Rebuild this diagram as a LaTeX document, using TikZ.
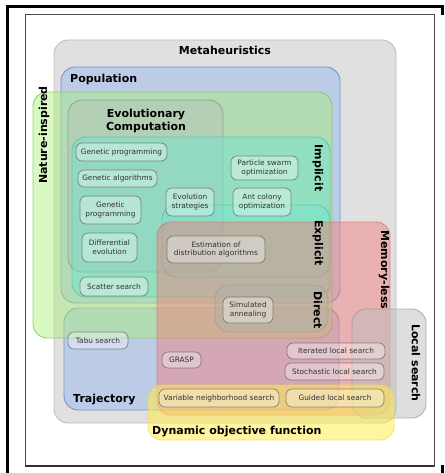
\documentclass[tikz,border=0pt]{standalone}
\usepackage{fontspec}
\setmainfont{DejaVu Sans}
\definecolor{metaF}{RGB}{224,224,224}
\definecolor{metaD}{RGB}{190,190,190}
\definecolor{popF}{RGB}{165,192,236}
\definecolor{popD}{RGB}{120,150,205}
\definecolor{natF}{RGB}{170,240,120}
\definecolor{natD}{RGB}{120,200,90}
\definecolor{ecF}{RGB}{180,180,180}
\definecolor{ecD}{RGB}{130,150,130}
\definecolor{impF}{RGB}{110,230,210}
\definecolor{impD}{RGB}{80,190,170}
\definecolor{memF}{RGB}{245,120,120}
\definecolor{memD}{RGB}{210,110,110}
\definecolor{locF}{RGB}{190,190,190}
\definecolor{locD}{RGB}{150,150,150}
\definecolor{dynF}{RGB}{255,238,80}
\definecolor{dynD}{RGB}{235,215,80}
\begin{document}
\begin{tikzpicture}[x=1pt,y=-1pt,
  setbox/.style={rounded corners=14pt,line width=0.9pt},
  biglabel/.style={font=\fontsize{11}{13}\selectfont\bfseries,inner sep=0pt,align=center},
  item/.style={draw=black!60,draw opacity=0.75,fill=white,fill opacity=0.35,text opacity=1,
    rounded corners=6pt,line width=0.7pt,align=center,inner sep=1pt,
    font=\fontsize{7.4}{8.6}\selectfont,text=black!80}]
\useasboundingbox (0,0) rectangle (444,473);
% frames
\draw[line width=3pt] (7,480) -- (7,7) -- (442,7) -- (442,15);
\fill (441,465) rectangle (444,473);
\draw[black!70,line width=0.8pt] (25,14) rectangle (434,466);
\draw[black!80,line width=1.2pt] (25,466) -- (434,466);
% sets
\draw[setbox,fill=metaF,draw=metaD] (54,40) rectangle (396,423);
\draw[setbox,fill=popF,fill opacity=0.6,draw=popD] (61,67) rectangle (340,303);
\draw[setbox,fill=popF,fill opacity=0.6,draw=popD] (64,308) rectangle (339,410);
\draw[setbox,fill=natF,fill opacity=0.45,draw=natD,draw opacity=0.8] (33,92) rectangle (332,338);
\draw[setbox,fill=ecF,fill opacity=0.3,draw=ecD,draw opacity=0.7] (68,100) rectangle (223,272);
\draw[setbox,fill=impF,fill opacity=0.45,draw=impD,draw opacity=0.7] (72,137) rectangle (330,297);
\draw[setbox,fill=impF,fill opacity=0.35,draw=impD,draw opacity=0.7] (162,205) rectangle (330,277);
\draw[setbox,fill=impF,fill opacity=0.45,draw=impD,draw opacity=0.7] (215,285) rectangle (328,332);
\draw[setbox,fill=memF,fill opacity=0.45,draw=memD,draw opacity=0.7] (157,222) rectangle (390,415);
\draw[setbox,fill=locF,fill opacity=0.5,draw=locD,draw opacity=0.7] (352,309) rectangle (426,418);
\draw[setbox,fill=dynF,fill opacity=0.55,draw=dynD,draw opacity=0.7] (148,385) rectangle (394,440);
% labels
\node[biglabel] (lmeta) at (225,50) {Metaheuristics};
\node[biglabel,anchor=west] (lpop) at (70,79) {Population};
\node[biglabel] (lec) at (146,121) {Evolutionary\\Computation};
\node[biglabel,rotate=90] (lnat) at (44,135) {Nature-inspired};
\node[biglabel,rotate=-90] (limp) at (318,168) {Implicit};
\node[biglabel,rotate=-90] (lexp) at (318,243) {Explicit};
\node[biglabel,rotate=-90] (ldir) at (318,310) {Direct};
\node[biglabel,rotate=-90] (lmem) at (384,270) {Memory-less};
\node[biglabel,rotate=-90] (lloc) at (416,363) {Local search};
\node[biglabel,anchor=west] (ltraj) at (73,400) {Trajectory};
\node[biglabel,anchor=west] (ldyn) at (152,432) {Dynamic objective function};
% items
\node[item,minimum width=91pt,minimum height=18pt] (gp1) at (121.5,152) {Genetic programming};
\node[item,minimum width=79pt,minimum height=17pt] (ga) at (117.5,178.5) {Genetic algorithms};
\node[item,minimum width=61pt,minimum height=28pt] (gp2) at (110.5,210) {Genetic\\programming};
\node[item,minimum width=55pt,minimum height=29pt] (de) at (109.5,247.5) {Differential\\evolution};
\node[item,minimum width=68pt,minimum height=19pt] (ss) at (114,286.5) {Scatter search};
\node[item,minimum width=48pt,minimum height=28pt] (es) at (190,202) {Evolution\\strategies};
\node[item,minimum width=67pt,minimum height=24pt] (pso) at (264.5,168) {Particle swarm\\optimization};
\node[item,minimum width=58pt,minimum height=28pt] (aco) at (262,202) {Ant colony\\optimization};
\node[item,minimum width=98pt,minimum height=27pt] (eda) at (216,249.5) {Estimation of\\distribution algorithms};
\node[item,minimum width=50pt,minimum height=26pt] (sa) at (248,310) {Simulated\\annealing};
\node[item,minimum width=60pt,minimum height=17pt] (tabu) at (98,340.5) {Tabu search};
\node[item,minimum width=39pt,minimum height=16pt] (grasp) at (181.5,360) {GRASP};
\node[item,minimum width=98pt,minimum height=16pt] (ils) at (336,351) {Iterated local search};
\node[item,minimum width=99pt,minimum height=17pt] (sls) at (334.5,371.5) {Stochastic local search};
\node[item,minimum width=120pt,minimum height=18pt] (vns) at (219,398) {Variable neighborhood search};
\node[item,minimum width=98pt,minimum height=18pt] (gls) at (335,398) {Guided local search};
\end{tikzpicture}
\end{document}
